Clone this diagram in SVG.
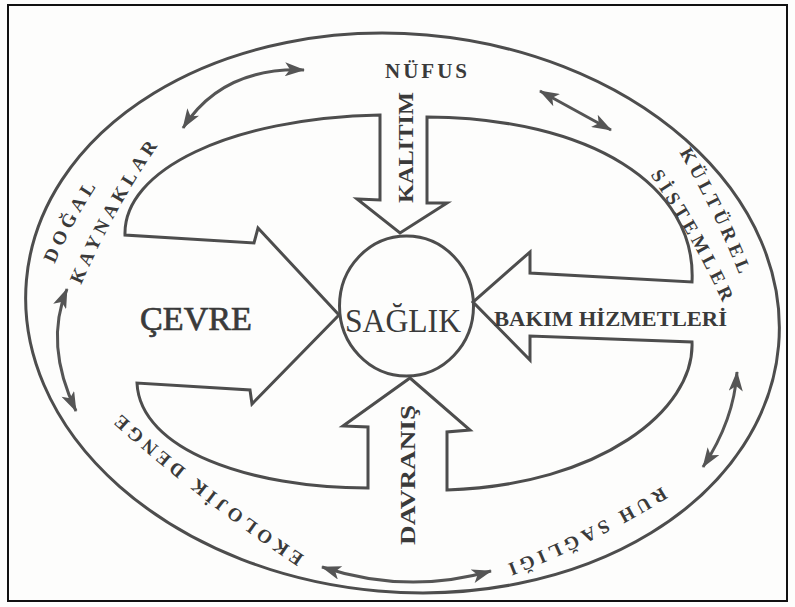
<svg xmlns="http://www.w3.org/2000/svg" width="795" height="607" viewBox="0 0 795 607">
<defs>
<style>
.ln{fill:none;stroke:#4d4d4d;stroke-width:3;stroke-linejoin:miter}
.cn{fill:none;stroke:#555;stroke-width:3}
.t{font-family:"Liberation Serif","Times New Roman",serif;fill:#3a3a3a}
.b{font-weight:bold}
.band{font-size:19px;font-weight:bold;letter-spacing:4.5px}
</style>
<marker id="ah" viewBox="0 0 20 14" refX="19" refY="7" markerWidth="21" markerHeight="14" markerUnits="userSpaceOnUse" orient="auto-start-reverse"><path d="M0,0 L20,7 L0,14 L5,7 Z" fill="#555"/></marker>
<path id="pDogal" d="M55,263 Q73,221.6 98,184"/>
<path id="pKayn" d="M82,283 Q113.5,209.6 159,144"/>
<path id="pKult" d="M679,152 Q715,212.5 741,279"/>
<path id="pSist" d="M651,176 Q692.5,237.5 724,305"/>
<path id="pRuh" d="M660,488 Q586.4,533.3 505,565"/>
<path id="pEko" d="M303,555 Q205.8,490 119,412"/>
</defs>
<rect x="0" y="0" width="795" height="607" fill="#fdfdfc"/>
<rect x="8" y="5" width="779" height="596" fill="none" stroke="#111" stroke-width="2"/>

<g id="outer-ellipse">
<ellipse class="ln" cx="402.5" cy="313" rx="377.5" ry="279" transform="rotate(5 402.5 313)"/>
</g>

<g id="inner-shape">
<path class="ln" d="M125,235 C123,170 230,118 380,115 L380,200 L357,199 L400,233 L447,203 L427,203 L427,117 C590,118 697,185 692,282 L530,273 L530,252 L473,302 L530,360 L530,336 L692,342 C695,410 600,485 447,490 L447,432 L470,430 L410,378 L343,426 L368,427 L368,488 C250,488 140,450 137,383 L250,390 L252,404 L339,315 L258,228 L254,243 Z"/>
</g>

<g id="cevre">
<text class="t" x="140" y="330" font-size="34" stroke="#3a3a3a" stroke-width="0.7" textLength="112" lengthAdjust="spacingAndGlyphs">ÇEVRE</text>
</g>
<g id="kalitim">
<text class="t b" transform="translate(413,147.5) rotate(-90)" x="0" y="0" font-size="21" text-anchor="middle" textLength="111" lengthAdjust="spacingAndGlyphs">KALITIM</text>
</g>
<g id="bakim">
<text class="t b" x="494" y="326" font-size="21" textLength="233" lengthAdjust="spacingAndGlyphs">BAKIM HİZMETLERİ</text>
</g>
<g id="davranis">
<text class="t b" transform="translate(415,475) rotate(-90)" x="0" y="0" font-size="21" text-anchor="middle" textLength="140" lengthAdjust="spacingAndGlyphs">DAVRANIŞ</text>
</g>

<g id="saglik">
<ellipse class="ln" cx="406.5" cy="306" rx="67" ry="70"/>
<text class="t" x="345" y="332" font-size="34" textLength="116" lengthAdjust="spacingAndGlyphs">SAĞLIK</text>
</g>

<g id="nufus">
<text class="t b" x="427.5" y="78" font-size="21" letter-spacing="3" text-anchor="middle">NÜFUS</text>
</g>
<g id="dogal-kaynaklar">
<text class="t band"><textPath href="#pDogal" startOffset="50%" text-anchor="middle">DOĞAL</textPath></text>
<text class="t band"><textPath href="#pKayn" startOffset="50%" text-anchor="middle">KAYNAKLAR</textPath></text>
</g>
<g id="kulturel-sistemler">
<text class="t band"><textPath href="#pKult" startOffset="50%" text-anchor="middle">KÜLTÜREL</textPath></text>
<text class="t band"><textPath href="#pSist" startOffset="50%" text-anchor="middle">SİSTEMLER</textPath></text>
</g>
<g id="ruh-sagligi">
<text class="t band"><textPath href="#pRuh" startOffset="50%" text-anchor="middle">RUH SAĞLIĞI</textPath></text>
</g>
<g id="ekolojik-denge">
<text class="t band"><textPath href="#pEko" startOffset="50%" text-anchor="middle">EKOLOJİK DENGE</textPath></text>
</g>

<g id="connectors">
<path class="cn" d="M183,128 Q222,67 304,70" marker-start="url(#ah)" marker-end="url(#ah)"/>
<path class="cn" d="M540,91 L611,130" marker-start="url(#ah)" marker-end="url(#ah)"/>
<path class="cn" d="M67,289 Q44,344 76,411" marker-start="url(#ah)" marker-end="url(#ah)"/>
<path class="cn" d="M737,372 Q734,420 703,467" marker-start="url(#ah)" marker-end="url(#ah)"/>
<path class="cn" d="M322,567 Q407,595 491,571" marker-start="url(#ah)" marker-end="url(#ah)"/>
</g>
</svg>
